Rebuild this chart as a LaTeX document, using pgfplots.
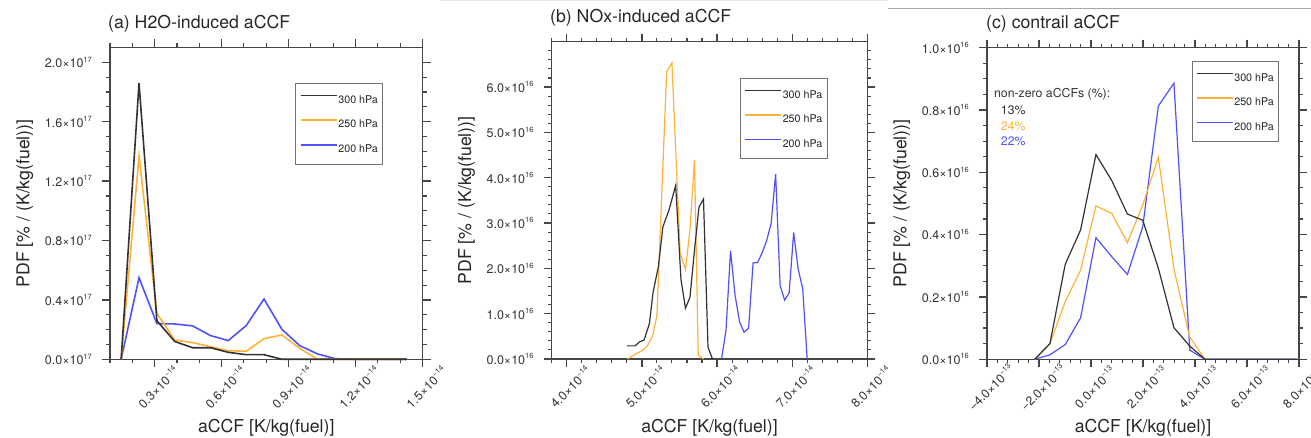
\documentclass[border=0pt]{standalone}
\usepackage{fontspec}
\setmainfont{TeX Gyre Heros}
\usepackage{pgfplots}
\pgfplotsset{compat=1.18}
\definecolor{cblack}{RGB}{50,50,50}
\definecolor{corange}{RGB}{255,178,55}
\definecolor{cblue}{RGB}{80,80,255}
\definecolor{axgray}{RGB}{70,70,70}
\newcommand{\sci}[2]{#1×10\raisebox{0.45em}{\fontsize{7.5}{8}\selectfont #2}}
\pgfplotsset{
  botmaj/.style={scale only axis, anchor=north west, height=10pt, ymin=0, ymax=1, ytick=\empty,
    tick align=outside, xtick pos=right, xticklabels={}, axis line style={draw=none},
    major tick length=8pt, tick style={draw=axgray, line width=1.3pt}},
  botmin/.style={botmaj, major tick length=4pt, tick style={line width=1.1pt}},
  leftmaj/.style={scale only axis, anchor=south east, width=10pt, xmin=0, xmax=1, xtick=\empty,
    tick align=outside, ytick pos=right, yticklabels={}, axis line style={draw=none},
    major tick length=8pt, tick style={draw=axgray, line width=1.3pt}},
  leftmin/.style={leftmaj, major tick length=4pt, tick style={line width=1.1pt}},
  ncl/.style={
    scale only axis,
    anchor=south west,
    clip=false,
    axis line style={draw=axgray, line width=1.1pt},
    tick align=outside,
    tick pos=both,
    major tick length=8pt,
    minor tick length=4pt,
    tick style={draw=axgray, line width=1.3pt},
    minor tick style={draw=axgray, line width=1.1pt},
    tick label style={font=\fontsize{12.5}{14}\selectfont, text=black!80},
    yticklabel style={anchor=east, inner sep=0pt, xshift=-10pt},
    xticklabel style={inner sep=0pt, xshift=3.5pt, anchor=center, rotate=45},
    xticklabel shift=20pt,
    label style={font=\fontsize{17.7}{20}\selectfont, text=black!85},
    title style={font=\fontsize{17.7}{20}\selectfont, text=black!85, anchor=base west, inner sep=0pt},
    xlabel style={anchor=base, inner sep=0pt},
    ylabel style={anchor=base, inner sep=0pt},
    reverse legend,
    legend cell align=left,
    legend image code/.code={\draw[##1] (0pt,3.85pt) -- (36pt,3.85pt);},
    legend style={anchor=north west, draw=black!55, line width=0.9pt, fill=white,
      font=\fontsize{10.7}{12}\selectfont, text=black!85,
      inner xsep=4pt, inner ysep=11.2pt, row sep=16.3pt, column sep=0pt,
      nodes={inner xsep=1pt, inner ysep=0pt, text height=7.7pt, text depth=0pt}},
    xlabel={aCCF [K/kg(fuel)]},
    ylabel={PDF [\% / (K/kg(fuel))]},
  }
}
\begin{document}
\begin{tikzpicture}
\useasboundingbox (0,0) rectangle (1311pt,438pt);
\draw[black!35, line width=1pt] (888pt,429.7pt) -- (1311pt,429.7pt);
\draw[black!10, line width=1pt] (440pt,437.6pt) -- (888pt,437.6pt);
% ================= (a) bottom/left ticks
\begin{axis}[botmaj, at={(110pt,70.7pt)}, width=312.5pt, xmin=0.1, xmax=1.5, xtick={0.3,0.6,0.9,1.2,1.5}]
\end{axis}
\begin{axis}[botmin, at={(110pt,74.7pt)}, width=312.5pt, xmin=0.1, xmax=1.5, xtick={0.1,0.2,0.4,0.5,0.7,0.8,1.0,1.1,1.3,1.4}]
\end{axis}
\begin{axis}[leftmaj, at={(102pt,78.7pt)}, height=311.8pt, ymin=0, ymax=2.1, ytick={0,0.4,0.8,1.2,1.6,2.0}]
\end{axis}
\begin{axis}[leftmin, at={(106pt,78.7pt)}, height=311.8pt, ymin=0, ymax=2.1, ytick={0.1,0.2,0.3,0.5,0.6,0.7,0.9,1.0,1.1,1.3,1.4,1.5,1.7,1.8,1.9}]
\end{axis}
% ================= (a)
\begin{axis}[ncl, at={(110pt,78.7pt)}, width=312.5pt, height=311.8pt,
  xmin=0.1, xmax=1.5, ymin=0, ymax=2.1,
  xtick={0.3,0.6,0.9,1.2,1.5},
  xticklabels={\sci{0.3}{−14},\sci{0.6}{−14},\sci{0.9}{−14},\sci{1.2}{−14},\sci{1.5}{−14}},
  minor xtick={0.1,0.2,0.4,0.5,0.7,0.8,1.0,1.1,1.3,1.4},
  ytick={0,0.4,0.8,1.2,1.6,2.0},
  yticklabels={\sci{0.0}{17},\sci{0.4}{17},\sci{0.8}{17},\sci{1.2}{17},\sci{1.6}{17},\sci{2.0}{17}},
  minor ytick={0.1,0.2,0.3,0.5,0.6,0.7,0.9,1.0,1.1,1.3,1.4,1.5,1.7,1.8,1.9},
  title={(a) H2O-induced aCCF},
  title style={at={(axis description cs:-0.0064,1.0401)}},
  xlabel style={at={(axis description cs:0.5,-0.2357)}},
  ylabel style={at={(axis description cs:-0.2582,0.5)}},
  legend style={at={(0.593,0.886)}},
]
\addplot[cblue, line width=1.6pt] coordinates {
(0.15,0) (0.23,0.55) (0.31,0.24) (0.39,0.238) (0.47,0.225) (0.55,0.16) (0.63,0.126) (0.71,0.227) (0.79,0.406) (0.87,0.202) (0.95,0.092) (1.03,0.036) (1.11,0.004) (1.19,0) (1.27,0) (1.35,0) (1.43,0)};
\addplot[corange, line width=1.6pt] coordinates {
(0.15,0) (0.23,1.37) (0.31,0.31) (0.39,0.13) (0.47,0.112) (0.55,0.085) (0.63,0.058) (0.71,0.054) (0.79,0.139) (0.87,0.164) (0.95,0.074) (1.03,0) (1.11,0) (1.19,0) (1.27,0) (1.35,0) (1.43,0)};
\addplot[cblack, line width=1.6pt] coordinates {
(0.15,0) (0.23,1.86) (0.31,0.26) (0.39,0.12) (0.47,0.078) (0.55,0.078) (0.63,0.047) (0.71,0.031) (0.79,0.031) (0.87,0) (0.95,0) (1.03,0) (1.11,0) (1.19,0) (1.27,0) (1.35,0) (1.43,0)};
\legend{200 hPa,250 hPa,300 hPa}
\end{axis}
% ================= (b) bottom/left ticks
\begin{axis}[botmaj, at={(551.7pt,71pt)}, width=315.6pt, xmin=3.8, xmax=8.0, xtick={4,5,6,7,8}]
\end{axis}
\begin{axis}[botmin, at={(551.7pt,75pt)}, width=315.6pt, xmin=3.8, xmax=8.0, xtick={3.8,4.2,4.4,4.6,4.8,5.2,5.4,5.6,5.8,6.2,6.4,6.6,6.8,7.2,7.4,7.6,7.8}]
\end{axis}
\begin{axis}[leftmaj, at={(543.7pt,79pt)}, height=317.3pt, ymin=0, ymax=7, ytick={0,1,2,3,4,5,6}]
\end{axis}
\begin{axis}[leftmin, at={(547.7pt,79pt)}, height=317.3pt, ymin=0, ymax=7, ytick={0.2,0.4,0.6,0.8,1.2,1.4,1.6,1.8,2.2,2.4,2.6,2.8,3.2,3.4,3.6,3.8,4.2,4.4,4.6,4.8,5.2,5.4,5.6,5.8,6.2,6.4,6.6,6.8}]
\end{axis}
% ================= (b)
\begin{axis}[ncl, at={(551.7pt,79pt)}, width=315.6pt, height=317.3pt,
  xmin=3.8, xmax=8.0, ymin=0, ymax=7,
  xtick={4,5,6,7,8},
  xticklabels={\sci{4.0}{−14},\sci{5.0}{−14},\sci{6.0}{−14},\sci{7.0}{−14},\sci{8.0}{−14}},
  minor xtick={3.8,4.2,4.4,4.6,4.8,5.2,5.4,5.6,5.8,6.2,6.4,6.6,6.8,7.2,7.4,7.6,7.8},
  ytick={0,1,2,3,4,5,6},
  yticklabels={\sci{0.0}{16},\sci{1.0}{16},\sci{2.0}{16},\sci{3.0}{16},\sci{4.0}{16},\sci{5.0}{16},\sci{6.0}{16}},
  minor ytick={0.2,0.4,0.6,0.8,1.2,1.4,1.6,1.8,2.2,2.4,2.6,2.8,3.2,3.4,3.6,3.8,4.2,4.4,4.6,4.8,5.2,5.4,5.6,5.8,6.2,6.4,6.6,6.8},
  title={(b) NOx-induced aCCF},
  title style={at={(axis description cs:-0.0054,1.0425)}},
  xlabel style={at={(axis description cs:0.5,-0.2316)}},
  ylabel style={at={(axis description cs:-0.2557,0.5)}},
  legend style={at={(0.597,0.885)}},
]
\addplot[cblue, line width=1.2pt] coordinates {
(6.06,0) (6.12,0.64) (6.18,2.39) (6.24,1.41) (6.30,0.82) (6.36,0.59) (6.42,0.68) (6.48,2.12) (6.54,2.13) (6.60,2.34) (6.66,2.61) (6.72,2.99) (6.78,4.08) (6.84,1.62) (6.90,1.30) (6.96,1.46) (7.02,2.79) (7.08,1.98) (7.14,1.56) (7.20,0)};
\addplot[corange, line width=1.2pt] coordinates {
(4.81,0) (4.88,0.07) (4.94,0.13) (5.01,0.19) (5.07,0.28) (5.14,0.50) (5.20,0.95) (5.33,6.34) (5.40,6.53) (5.51,2.33) (5.58,1.98) (5.64,2.85) (5.70,4.39) (5.75,0.09) (5.82,0)};
\addplot[cblack, line width=1.2pt] coordinates {
(4.80,0.29) (4.91,0.29) (4.97,0.38) (5.03,0.42) (5.10,0.78) (5.15,1.48) (5.22,2.04) (5.28,2.92) (5.36,3.28) (5.45,3.83) (5.52,1.76) (5.58,1.12) (5.64,1.36) (5.70,2.40) (5.76,3.35) (5.82,3.53) (5.88,0.26) (5.94,0)};
\legend{200 hPa,250 hPa,300 hPa}
\end{axis}
% ================= (c) bottom/left ticks
\begin{axis}[botmaj, at={(987pt,70.8pt)}, width=312pt, xmin=-4, xmax=8, xtick={-4,-2,0,2,4,6,8}]
\end{axis}
\begin{axis}[botmin, at={(987pt,74.8pt)}, width=312pt, xmin=-4, xmax=8, xtick={-3.6,-3.2,-2.8,-2.4,-1.6,-1.2,-0.8,-0.4,0.4,0.8,1.2,1.6,2.4,2.8,3.2,3.6,4.4,4.8,5.2,5.6,6.4,6.8,7.2,7.6}]
\end{axis}
\begin{axis}[leftmaj, at={(979pt,78.8pt)}, height=311.5pt, ymin=0, ymax=1, ytick={0,0.2,0.4,0.6,0.8,1.0}]
\end{axis}
\begin{axis}[leftmin, at={(983pt,78.8pt)}, height=311.5pt, ymin=0, ymax=1, ytick={0.05,0.1,0.15,0.25,0.3,0.35,0.45,0.5,0.55,0.65,0.7,0.75,0.85,0.9,0.95}]
\end{axis}
% ================= (c)
\begin{axis}[ncl, at={(987pt,78.8pt)}, width=312pt, height=311.5pt,
  xmin=-4, xmax=8, ymin=0, ymax=1,
  xtick={-4,-2,0,2,4,6,8},
  xticklabels={\sci{−4.0}{−13},\sci{−2.0}{−13},\sci{0.0}{−13},\sci{2.0}{−13},\sci{4.0}{−13},\sci{6.0}{−13},\sci{8.0}{−13}},
  minor xtick={-3.6,-3.2,-2.8,-2.4,-1.6,-1.2,-0.8,-0.4,0.4,0.8,1.2,1.6,2.4,2.8,3.2,3.6,4.4,4.8,5.2,5.6,6.4,6.8,7.2,7.6},
  ytick={0,0.2,0.4,0.6,0.8,1.0},
  yticklabels={\sci{0.0}{16},\sci{0.2}{16},\sci{0.4}{16},\sci{0.6}{16},\sci{0.8}{16},\sci{1.0}{16}},
  minor ytick={0.05,0.1,0.15,0.25,0.3,0.35,0.45,0.5,0.55,0.65,0.7,0.75,0.85,0.9,0.95},
  title={(c) contrail aCCF},
  title style={at={(axis description cs:-0.0032,1.043)}},
  xlabel style={at={(axis description cs:0.5,-0.236)}},
  ylabel style={at={(axis description cs:-0.2587,0.5)}},
  legend style={at={(0.656,0.957)}},
]
\addplot[cblue, line width=1.2pt] coordinates {
(-2.17,0) (-1.58,0.014) (-0.99,0.047) (-0.40,0.133) (0.19,0.39) (0.80,0.329) (1.40,0.272) (1.99,0.425) (2.59,0.813) (3.19,0.886) (3.80,0.029) (4.38,0) (4.97,0) (5.56,0) (6.16,0) (6.75,0) (7.35,0) (7.94,0)};
\addplot[corange, line width=1.2pt] coordinates {
(-2.16,0) (-1.58,0.049) (-0.99,0.185) (-0.40,0.286) (0.19,0.492) (0.80,0.468) (1.40,0.374) (1.99,0.495) (2.59,0.648) (3.19,0.290) (3.79,0.072) (4.38,0)};
\addplot[cblack, line width=1.2pt] coordinates {
(-2.16,0) (-1.58,0.05) (-0.99,0.305) (-0.40,0.415) (0.19,0.657) (0.80,0.573) (1.40,0.466) (1.99,0.446) (2.59,0.292) (3.19,0.101) (3.80,0.042) (4.38,0) (4.97,0) (5.56,0) (6.16,0) (6.75,0) (7.35,0) (7.94,0)};
\legend{200 hPa,250 hPa,300 hPa}
\node[anchor=west, inner sep=0pt, font=\fontsize{12.3}{14}\selectfont, text=black!80] at (rel axis cs:0.022,0.851) {non-zero aCCFs (\%):};
\node[anchor=west, inner sep=0pt, font=\fontsize{12.3}{14}\selectfont, text=black!80] at (rel axis cs:0.044,0.800) {13\%};
\node[anchor=west, inner sep=0pt, font=\fontsize{12.3}{14}\selectfont, text=corange] at (rel axis cs:0.044,0.749) {24\%};
\node[anchor=west, inner sep=0pt, font=\fontsize{12.3}{14}\selectfont, text=cblue] at (rel axis cs:0.044,0.700) {22\%};
\end{axis}
\end{tikzpicture}
\end{document}
